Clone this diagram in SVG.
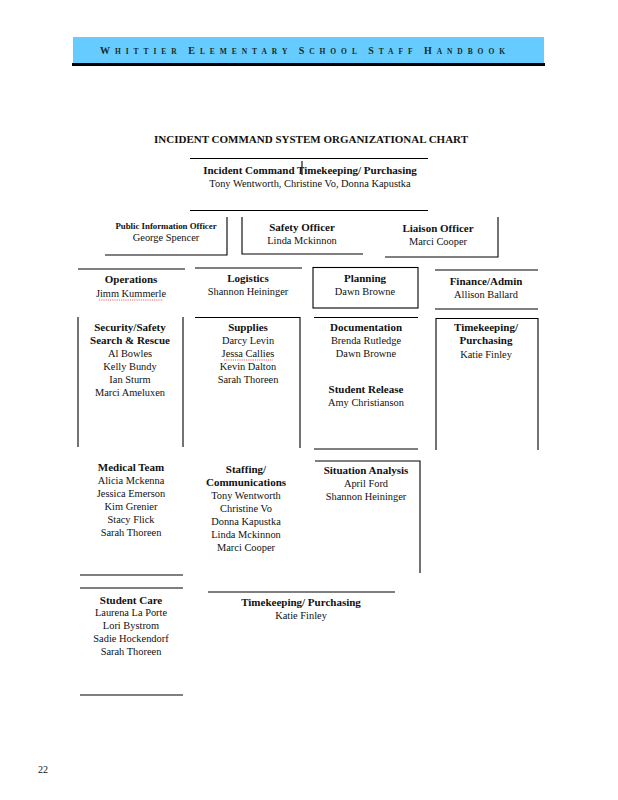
<svg xmlns="http://www.w3.org/2000/svg" width="618" height="800" viewBox="0 0 618 800">
<style>
.t{font-family:"Liberation Serif","Times New Roman",serif;font-size:10.4px;fill:#111;text-anchor:middle}
.b{font-weight:bold;font-size:11px}
.ln{stroke:#000;stroke-width:1.1;fill:none}
.sq{stroke:#e02020;stroke-width:0.7;fill:none;stroke-dasharray:1.2 1}
</style>
<rect width="618" height="800" fill="#fff"/>
<g id="header">
<rect x="73" y="37" width="471" height="26" fill="#66CCFF"/>
<line x1="72" y1="64.5" x2="545" y2="64.5" stroke="#000" stroke-width="3"/>
<text x="100" y="54" textLength="405" lengthAdjust="spacing" style="font-family:'Liberation Serif',serif;font-weight:bold;font-size:7.5px;fill:#1a2a1a">
<tspan font-size="10">W</tspan>HITTIER <tspan font-size="10">E</tspan>LEMENTARY <tspan font-size="10">S</tspan>CHOOL <tspan font-size="10">S</tspan>TAFF <tspan font-size="10">H</tspan>ANDBOOK</text>
</g>
<text class="t b" x="311" y="143">INCIDENT COMMAND SYSTEM ORGANIZATIONAL CHART</text>
<g id="connectors">
<line class="ln" x1="190" y1="158.5" x2="428" y2="158.5"/>
<line class="ln" x1="302" y1="161" x2="302" y2="175"/>
<line class="ln" x1="190" y1="210.5" x2="428" y2="210.5"/>
</g>
<g id="incident-command">
<text class="t b" x="310" y="174">Incident Command Timekeeping/ Purchasing</text>
<text class="t" x="310" y="187">Tony Wentworth, Christine Vo, Donna Kapustka</text>
</g>
<g id="public-info">
<polyline class="ln" points="227,217 227,255 105,255"/>
<text class="t b" x="166" y="229" style="font-size:8.8px">Public Information Officer</text>
<text class="t" x="166" y="241">George Spencer</text>
</g>
<g id="safety-officer">
<polyline class="ln" points="242,217 242,254 363,254"/>
<text class="t b" x="302" y="231">Safety Officer</text>
<text class="t" x="302" y="244">Linda Mckinnon</text>
</g>
<g id="liaison-officer">
<polyline class="ln" points="498,217 498,257 385,257"/>
<text class="t b" x="438" y="232">Liaison Officer</text>
<text class="t" x="438" y="245">Marci Cooper</text>
</g>
<g id="operations">
<line class="ln" x1="78" y1="269" x2="185" y2="269"/>
<text class="t b" x="131" y="283">Operations</text>
<text class="t" x="131" y="297">Jimm Kummerle</text>
<path class="sq" d="M99,300 H163"/>
</g>
<g id="logistics">
<line class="ln" x1="195" y1="268" x2="302" y2="268"/>
<text class="t b" x="248" y="282">Logistics</text>
<text class="t" x="248" y="295">Shannon Heininger</text>
</g>
<g id="planning">
<rect class="ln" x="313" y="267.5" width="105" height="40.5"/>
<text class="t b" x="365" y="282">Planning</text>
<text class="t" x="365" y="295">Dawn Browne</text>
</g>
<g id="finance-admin">
<line class="ln" x1="435" y1="270" x2="538" y2="270"/>
<line class="ln" x1="435" y1="309" x2="538" y2="309"/>
<text class="t b" x="486" y="285">Finance/Admin</text>
<text class="t" x="486" y="298">Allison Ballard</text>
</g>
<g id="security-safety">
<line class="ln" x1="78" y1="317" x2="78" y2="447"/>
<line class="ln" x1="183" y1="317" x2="183" y2="447"/>
<text class="t b" x="130" y="331">Security/Safety</text>
<text class="t b" x="130" y="344">Search &amp; Rescue</text>
<text class="t" x="130" y="357">Al Bowles</text>
<text class="t" x="130" y="370">Kelly Bundy</text>
<text class="t" x="130" y="383">Ian Sturm</text>
<text class="t" x="130" y="396">Marci Ameluxen</text>
</g>
<g id="supplies">
<polyline class="ln" points="195,317.5 300,317.5 300,448"/>
<text class="t b" x="248" y="331">Supplies</text>
<text class="t" x="248" y="344">Darcy Levin</text>
<text class="t" x="248" y="357">Jessa Callies</text>
<path class="sq" d="M224,360 H273"/>
<text class="t" x="248" y="370">Kevin Dalton</text>
<text class="t" x="248" y="383">Sarah Thoreen</text>
</g>
<g id="documentation">
<line class="ln" x1="314" y1="317.5" x2="418" y2="317.5"/>
<line class="ln" x1="314" y1="449" x2="418" y2="449"/>
<text class="t b" x="366" y="331">Documentation</text>
<text class="t" x="366" y="344">Brenda Rutledge</text>
<text class="t" x="366" y="357">Dawn Browne</text>
<text class="t b" x="366" y="393">Student Release</text>
<text class="t" x="366" y="406">Amy Christianson</text>
</g>
<g id="timekeeping-finance">
<polyline class="ln" points="436,450 436,318.5 538,318.5 538,450"/>
<text class="t b" x="486" y="331">Timekeeping/</text>
<text class="t b" x="486" y="344">Purchasing</text>
<text class="t" x="486" y="358">Katie Finley</text>
</g>
<g id="medical-team">
<line class="ln" x1="80" y1="575" x2="183" y2="575"/>
<text class="t b" x="131" y="471">Medical Team</text>
<text class="t" x="131" y="484">Alicia Mckenna</text>
<text class="t" x="131" y="497">Jessica Emerson</text>
<text class="t" x="131" y="510">Kim Grenier</text>
<text class="t" x="131" y="523">Stacy Flick</text>
<text class="t" x="131" y="536">Sarah Thoreen</text>
</g>
<g id="staffing-communications">
<text class="t b" x="246" y="473">Staffing/</text>
<text class="t b" x="246" y="486">Communications</text>
<text class="t" x="246" y="499">Tony Wentworth</text>
<text class="t" x="246" y="512">Christine Vo</text>
<text class="t" x="246" y="525">Donna Kapustka</text>
<text class="t" x="246" y="538">Linda Mckinnon</text>
<text class="t" x="246" y="551">Marci Cooper</text>
</g>
<g id="situation-analysis">
<polyline class="ln" points="315,461 420,461 420,573"/>
<text class="t b" x="366" y="474">Situation Analysis</text>
<text class="t" x="366" y="487">April Ford</text>
<text class="t" x="366" y="500">Shannon Heininger</text>
</g>
<g id="student-care">
<line class="ln" x1="80" y1="588" x2="183" y2="588"/>
<line class="ln" x1="80" y1="695" x2="183" y2="695"/>
<text class="t b" x="131" y="604">Student Care</text>
<text class="t" x="131" y="616">Laurena La Porte</text>
<text class="t" x="131" y="629">Lori Bystrom</text>
<text class="t" x="131" y="642">Sadie Hockendorf</text>
<text class="t" x="131" y="655">Sarah Thoreen</text>
</g>
<g id="timekeeping-purchasing">
<line class="ln" x1="208" y1="592" x2="395" y2="592"/>
<text class="t b" x="301" y="606">Timekeeping/ Purchasing</text>
<text class="t" x="301" y="619">Katie Finley</text>
</g>
<text x="38" y="773" style="font-family:'Liberation Serif',serif;font-size:10px;fill:#111">22</text>
</svg>
